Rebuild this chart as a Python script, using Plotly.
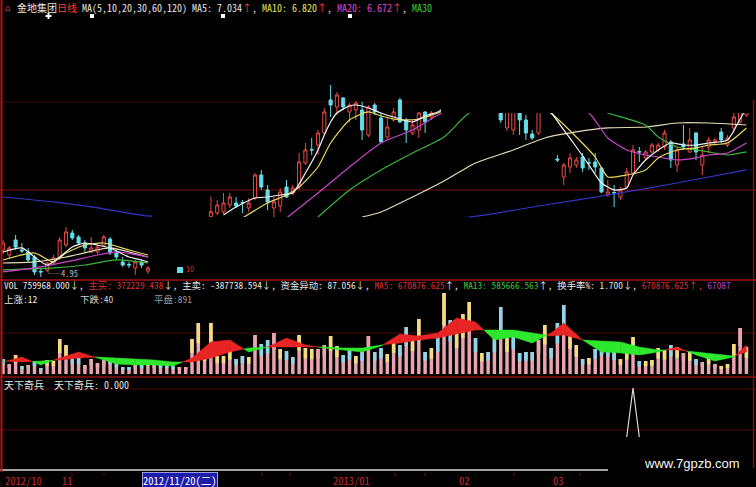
import plotly.graph_objects as go

W, H = 756, 487
N = None

# ---------------- data ----------------
days = list(range(119))

opens = [5.213,5.150,5.338,5.213,5.188,5.125,4.945,4.963,5.050,5.113,
         5.275,5.425,5.375,5.300,5.188,5.188,5.275,5.350,5.175,5.063,
         5.030,4.988,5.063,4.950,N,N,N,N,N,N,
         N,N,N,5.629,5.675,5.688,5.775,5.800,5.805,5.738,
         5.863,6.150,5.963,5.738,5.763,6.000,5.925,6.000,6.300,6.468,
         6.525,6.675,7.088,7.000,7.113,6.938,6.963,6.963,6.650,7.025,
         6.863,6.625,6.838,7.088,6.838,6.675,6.713,6.938,6.875,N,
         N,N,N,N,N,N,N,N,N,7.000,
         6.738,6.713,7.025,6.838,6.663,6.675,N,N,6.350,6.125,
         6.250,6.275,6.375,6.305,6.313,6.238,5.900,5.930,5.875,6.000,
         6.175,6.443,6.363,6.438,6.463,6.500,6.563,6.275,6.538,6.438,
         6.675,6.275,6.500,6.563,6.688,6.525,6.738,6.813,6.900]
highs = [5.338,5.263,5.400,5.300,5.238,5.150,4.988,5.063,5.150,5.375,
         5.500,5.463,5.400,5.338,5.375,5.275,5.400,5.375,5.213,5.125,
         5.063,5.088,5.088,5.013,N,N,N,N,N,N,
         N,N,N,5.879,5.838,5.925,5.925,5.875,5.838,5.863,
         6.175,6.213,6.025,5.875,5.988,6.088,6.025,6.425,6.550,6.613,
         6.713,6.988,7.275,7.188,7.125,7.050,7.075,7.063,7.025,7.050,
         6.925,6.863,6.988,7.113,6.863,6.838,6.938,6.950,6.950,N,
         N,N,N,N,N,N,N,N,N,7.100,
         7.050,7.050,7.100,6.900,6.713,7.050,N,N,6.400,6.300,
         6.425,6.375,6.425,6.363,6.425,6.250,6.088,6.025,6.000,6.238,
         6.525,6.500,6.463,6.550,6.550,6.713,6.588,6.500,6.775,6.738,
         6.688,6.500,6.625,6.613,6.738,6.650,7.000,7.050,7.100]
lows = [5.163,5.113,5.213,5.175,5.063,4.900,4.875,4.938,5.025,5.088,
        5.250,5.338,5.275,5.188,5.175,5.163,5.250,5.150,5.088,5.000,
        4.988,4.900,4.988,4.913,N,N,N,N,N,N,
        N,N,N,5.625,5.650,5.663,5.738,5.738,5.675,5.688,
        5.838,5.963,5.713,5.625,5.688,5.863,5.900,5.963,6.275,6.400,
        6.400,6.650,6.875,6.900,6.963,6.813,6.838,6.588,6.625,6.900,
        6.550,6.588,6.813,6.800,6.550,6.650,6.613,6.675,6.838,N,
        N,N,N,N,N,N,N,N,N,6.800,
        6.700,6.650,6.650,6.588,6.588,6.650,N,N,6.313,6.025,
        6.175,6.238,6.188,6.213,6.175,5.925,5.875,5.750,5.838,5.988,
        6.150,6.313,6.338,6.425,6.438,6.463,6.238,6.188,6.463,6.425,
        6.338,6.150,6.425,6.538,6.550,6.500,6.675,6.775,6.875]
closes = [5.300,5.238,5.250,5.200,5.088,4.938,4.938,5.050,5.113,5.338,
          5.438,5.363,5.300,5.238,5.238,5.250,5.375,5.175,5.125,5.025,
          5.025,5.063,5.025,4.988,N,N,N,N,N,N,
          N,N,N,5.691,5.775,5.800,5.875,5.763,5.800,5.800,
          6.150,6.000,5.813,5.813,5.938,5.875,5.988,6.313,6.463,6.463,
          6.675,6.938,7.025,7.150,7.000,7.025,7.050,6.713,7.000,6.938,
          6.563,6.750,6.938,6.813,6.713,6.775,6.925,6.813,6.925,N,
          N,N,N,N,N,N,N,N,N,6.838,
          6.963,6.988,6.838,6.675,6.613,7.025,N,N,6.338,6.275,
          6.363,6.338,6.238,6.300,6.250,5.938,5.938,5.925,5.963,6.188,
          6.463,6.438,6.438,6.525,6.525,6.675,6.338,6.463,6.500,6.588,
          6.438,6.400,6.588,6.588,6.588,6.613,6.875,7.000,7.050]

# moving-average lines (day index, price)
ma5_x = [0,3,5,7,9,11,13,15,17,20,22,23,N,35,37,40,42,44,46,48,50,51,52,53,55,56,58,60,62,65,67,69,72,78,84,87,89,91,93,95,97,99,100,102,104,106,108,110,112,115,117,118]
ma5_y = [5.188,5.238,5.125,5.025,5.125,5.250,5.300,5.275,5.238,5.125,5.088,5.063,N,5.650,5.750,5.863,5.875,5.900,5.925,6.175,6.463,6.650,6.813,6.925,7.013,7.025,6.988,6.925,6.875,6.813,6.888,6.938,7.088,7.150,7.088,6.925,6.713,6.500,6.275,6.050,5.963,5.988,6.150,6.338,6.463,6.550,6.525,6.525,6.550,6.588,6.850,6.988]
ma10_x = [0,5,8,10,13,16,20,23,N,38,42,45,47,50,52,55,58,60,63,66,69,72,80,86,87,91,94,96,99,102,104,107,110,112,115,118]
ma10_y = [5.088,5.175,5.063,5.175,5.275,5.300,5.213,5.150,N,5.613,5.800,5.900,6.000,6.250,6.550,6.838,6.938,6.888,6.838,6.850,6.925,7.025,7.088,6.988,6.925,6.625,6.375,6.125,6.150,6.213,6.363,6.463,6.488,6.525,6.550,6.738]
ma20_x = [0,5,10,15,18,23,N,45,50,55,60,65,69,72,80,88,93,96,99,102,104,107,110,112,115,118]
ma20_y = [4.938,4.988,5.063,5.150,5.188,5.125,N,5.613,5.925,6.250,6.550,6.713,6.900,7.025,7.150,7.088,6.925,6.613,6.463,6.400,6.375,6.338,6.363,6.400,6.425,6.550]
ma30_x = [0,8,13,18,23,N,50,55,60,65,70,74,80,90,96,102,104,107,110,112,115,118]
ma30_y = [4.963,4.988,5.025,5.088,5.050,N,5.625,5.963,6.213,6.425,6.625,6.925,7.063,7.088,6.925,6.775,6.625,6.500,6.463,6.438,6.400,6.438]
ma60_x = [0,5,10,15,17,23,N,57,60,65,70,75,81,86,91,96,102,107,112,118]
ma60_y = [5.050,5.063,5.125,5.213,5.238,5.125,N,5.625,5.688,5.875,6.075,6.300,6.463,6.613,6.688,6.738,6.750,6.800,6.800,6.775]
ma120_x = [0,8,15,23,35,50,65,74,86,96,107,118]
ma120_y = [5.875,5.813,5.738,5.638,5.600,5.563,5.600,5.625,5.775,5.900,6.050,6.213]

# volume, thousand shares
vol_k = [420,280,532,224,252,364,168,392,364,980,
         812,448,448,252,420,308,392,448,308,196,
         196,252,252,392,280,280,280,224,196,196,
         980,1428,616,1428,504,504,672,420,504,476,
         1092,840,952,1148,700,644,476,1092,728,700,
         700,812,1064,784,532,672,504,616,1064,616,
         728,560,980,812,1316,1064,1540,616,728,1036,
         2268,1512,1204,1680,2016,1008,588,616,1008,1876,
         1036,1148,588,616,616,952,1372,728,1428,1932,
         1176,812,420,448,700,868,812,644,420,672,
         1036,364,364,392,728,672,812,756,588,616,
         420,336,448,280,224,280,840,1288,756]
vol_kind = ("cpycpccyyy" "yccppppccc" "cpcypcccpp" "yyyyyyyccy" "pccpyccyyy"
            "ppyyccycpc" "cyyccyycyc" "ycyyycyccc" "yccccpyccc" "yycyccccyy"
            "ycyyyycypy" "cpypyyypy")

vol_ma_days = [0,3,6,9,12,15,18,21,24,27,30,33,36,39,42,45,48,51,54,57,60,63,66,69,72,75,78,81,84,87,89,92,95,98,101,104,107,110,113,116,118]
vol_ma5 = [336,476,252,448,616,448,280,252,252,224,448,896,952,616,756,1008,812,728,672,616,784,1120,1064,1148,1568,1456,952,1036,868,1148,1428,952,616,588,532,616,756,532,364,476,812]
vol_ma13 = [364,336,364,392,448,476,448,420,392,336,336,448,616,728,756,756,756,756,728,728,812,868,952,1008,1120,1232,1232,1232,1148,1064,1092,952,924,896,756,672,672,616,560,504,616]

ind_days = [99, 100, 101]
ind_vals = [0, 1, 0]

date_labels = ["2012/10", "11", "2013/01", "02", "03"]
date_idx = [0, 9, 52, 72, 87]
cursor_label = "2012/11/20(二)"
cursor_idx = 22

# ---------------- layout helpers ----------------
def py(px):
    return 1 - px / H

def pxp(px):
    return px / W

FONT = "Noto Sans Mono CJK SC, Noto Sans CJK SC, DejaVu Sans Mono, monospace"
RED_TXT = "#ff3c3c"
FS = 10

fig = go.Figure()

ma_style = [
    (ma120_x, ma120_y, "#3434c8"),
    (ma60_x, ma60_y, "#e6dcb4"),
    (ma30_x, ma30_y, "#3cb43c"),
    (ma20_x, ma20_y, "#cc44cc"),
    (ma10_x, ma10_y, "#e8d860"),
    (ma5_x, ma5_y, "#f2f2f2"),
]
for xs, ys, col in ma_style:
    fig.add_trace(go.Scatter(x=xs, y=ys, mode="lines", yaxis="y",
                             line=dict(color=col, width=1.2, shape="spline", smoothing=0.6),
                             hoverinfo="skip", showlegend=False))

fig.add_trace(go.Candlestick(
    x=days, open=opens, high=highs, low=lows, close=closes, yaxis="y",
    increasing=dict(line=dict(color="#e84a4a", width=1), fillcolor="#000000"),
    decreasing=dict(line=dict(color="#66dcea", width=1), fillcolor="#66dcea"),
    whiskerwidth=0, hoverinfo="skip", showlegend=False))

# volume bars: pink body with coloured top section
TOP = 0.4
kind_col = {"c": "#8fd6ea", "y": "#f4dc7c", "p": "#eaa4ae"}
lower = [v * (1 - TOP) for v in vol_k]
upper = [v * TOP for v in vol_k]
fig.add_trace(go.Bar(x=days, y=vol_k, yaxis="y2", width=0.55,
                     marker=dict(color="#eaa4ae", line=dict(width=0)),
                     hoverinfo="skip", showlegend=False))
fig.add_trace(go.Bar(x=days, y=upper, base=lower, yaxis="y2", width=0.55,
                     marker=dict(color=[kind_col[k] for k in vol_kind], line=dict(width=0)),
                     hoverinfo="skip", showlegend=False))

# MA5 / MA13 band of volume
RED_F, GRN_F = "#e82424", "#2ee82e"
for j in range(len(vol_ma_days) - 1):
    d0, d1 = vol_ma_days[j], vol_ma_days[j + 1]
    a0, a1 = vol_ma5[j], vol_ma5[j + 1]
    b0, b1 = vol_ma13[j], vol_ma13[j + 1]
    s0, s1 = a0 - b0, a1 - b1
    if s0 * s1 < 0:
        t = s0 / (s0 - s1)
        dm = d0 + t * (d1 - d0)
        vm = a0 + t * (a1 - a0)
        pieces = [((d0, a0, b0), (dm, vm, vm), s0), ((dm, vm, vm), (d1, a1, b1), s1)]
    else:
        pieces = [((d0, a0, b0), (d1, a1, b1), s0 + s1)]
    for p0, p1, s in pieces:
        col = RED_F if s > 0 else GRN_F
        fig.add_trace(go.Scatter(
            x=[p0[0], p1[0], p1[0], p0[0], p0[0]],
            y=[p0[1], p1[1], p1[2], p0[2], p0[1]],
            mode="lines", fill="toself", fillcolor=col,
            line=dict(color=col, width=0.5), yaxis="y2",
            hoverinfo="skip", showlegend=False))

fig.add_trace(go.Scatter(x=ind_days, y=ind_vals, mode="lines", yaxis="y3",
                         line=dict(color="#d8d8d8", width=1.2),
                         hoverinfo="skip", showlegend=False))

# ---------------- shapes ----------------
shapes = []
def hline(px, col, w=1, x0=0, x1=W, layer="below"):
    shapes.append(dict(type="line", xref="paper", yref="paper", x0=pxp(x0), x1=pxp(x1),
                       y0=py(px), y1=py(px), line=dict(color=col, width=w), layer=layer))
def vline(px, y0, y1, col, w=1):
    shapes.append(dict(type="line", xref="paper", yref="paper", x0=pxp(px), x1=pxp(px),
                       y0=py(y0), y1=py(y1), line=dict(color=col, width=w), layer="above"))
def rect(x0, y0, x1, y1, col, layer="above"):
    shapes.append(dict(type="rect", xref="paper", yref="paper", x0=pxp(x0), x1=pxp(x1),
                       y0=py(y1), y1=py(y0), fillcolor=col, line=dict(width=0), layer=layer))

hline(102, "#3c0808")
hline(190, "#7a1010")
hline(333, "#4c0a0a")
hline(389, "#4c0a0a")
hline(430, "#4c0a0a")

# black cut-outs present in the screenshot
rect(441, 22, 752, 113, "#000000")
rect(152, 22, 205, 279, "#000000")
rect(205, 217, 470, 279, "#000000")
# grid lines stay visible across the left cut-out
hline(102, "#3c0808", 1, 152, 205, layer="above")
hline(190, "#7a1010", 1, 152, 205, layer="above")

hline(280, "#a01414", 1.5, layer="above")
hline(377, "#8c1010", 1.5, layer="above")
hline(470, "#d8d8d8", 1.5, 0, 608, layer="above")
vline(1.5, 0, 472, "#b01414", 2)
vline(753.5, 100, 468, "#7a1010", 1.5)

# small header markers
for mx in [92, 223, 350]:
    rect(mx - 2, 14, mx + 2, 18, "#ffffff")
rect(45.5, 15, 51.5, 17, "#ffffff")
rect(47.5, 13, 49.5, 19, "#ffffff")
# small cyan marker at left cut
rect(177, 267, 183, 273, "#66dcea")
# tick marks of the time axis
for tx in [72, 104, 200, 262, 290, 395, 425, 514, 580]:
    vline(tx, 473, 476, "#8c1010", 1)

# ---------------- annotations ----------------
ann = []
def txt(x, y, s, size=FS, col="#e6e6e6", family=FONT, xref="paper", **kw):
    ann.append(dict(x=(pxp(x) if xref == "paper" else x), y=py(y), xref=xref, yref="paper",
                    text=s, showarrow=False, xanchor="left", yanchor="middle",
                    font=dict(family=family, size=size, color=col), **kw))

W_ = "#e6e6e6"
def sp(s, c):
    return f'<span style="color:{c}">{s}</span>'

txt(3, 7, sp("⌂", RED_TXT), size=9)
txt(15, 7, sp("金地集团", W_) + sp("日线", RED_TXT) + sp(" MA(5,10,20,30,60,120) MA5: 7.034", W_)
    + sp("↑", RED_TXT) + sp(", ", W_) + sp("MA10: 6.820", "#e8e060") + sp("↑", RED_TXT)
    + sp(", ", W_) + sp("MA20: 6.672", "#dd44dd") + sp("↑", RED_TXT) + sp(", ", W_)
    + sp("MA30", "#44d044"))

txt(2, 285, sp("VOL 759968.000↓, ", W_) + sp("主买: 372229.438", "#d83030") + sp("↓, ", W_)
    + sp("主卖: -387738.594↓, 资金异动: 87.056↓, ", W_) + sp("MA5: 670876.625", "#d83030")
    + sp("↑, ", W_) + sp("MA13: 585666.563", "#3cc03c") + sp("↑, ", W_)
    + sp("换手率%: 1.700↓, ", W_) + sp("670876.625↑, ", "#d83030") + sp("67087", "#b040c0"),
    size=9.4)
txt(2, 299, sp("上涨:12", W_), size=9.5)
txt(78, 299, sp("下跌:40", "#cfcfcf"), size=9.5)
txt(152, 299, sp("平盘:891", "#9a9a9a"), size=9.5)

txt(2, 384, sp("天下奇兵  天下奇兵: 0.000", W_))
txt(42, 273, sp("└─4.95", "#bdbdbd"), size=8.5)
txt(184, 268, sp("10", "#d83030"), size=8)

for lab, di in zip(date_labels, date_idx):
    txt(di, 480, lab, size=10.5, col="#c42a2a", xref="x")
txt(cursor_idx, 480, cursor_label, size=10.5, col="#ffffff", xref="x",
    bgcolor="#1c1ca8", bordercolor="#9a9ae0", borderwidth=1, borderpad=0)

ann.append(dict(x=pxp(692), y=py(463), xref="paper", yref="paper", text="www.7gpzb.com",
                showarrow=False, xanchor="center", yanchor="middle",
                font=dict(family="Liberation Sans, Arial, sans-serif", size=13, color="#f4f4f4")))

fig.update_layout(
    width=W, height=H, autosize=False,
    margin=dict(l=0, r=0, t=0, b=0, pad=0),
    paper_bgcolor="#000000", plot_bgcolor="#000000",
    showlegend=False, hovermode=False, barmode="overlay",
    xaxis=dict(range=[-0.476, 119.52], visible=False, rangeslider=dict(visible=False),
               fixedrange=True),
    yaxis=dict(domain=[py(278), py(20)], range=[4.8625, 8.0875], visible=False, fixedrange=True),
    yaxis2=dict(domain=[py(374), py(290)], range=[0, 2352], visible=False, fixedrange=True),
    yaxis3=dict(domain=[py(437), py(388)], range=[0, 1], visible=False, fixedrange=True),
    shapes=shapes, annotations=ann,
)

fig.write_html("out.html", config={"displayModeBar": False, "staticPlot": True},
               post_script="document.body.style.margin='0';document.body.style.background='#000';")
